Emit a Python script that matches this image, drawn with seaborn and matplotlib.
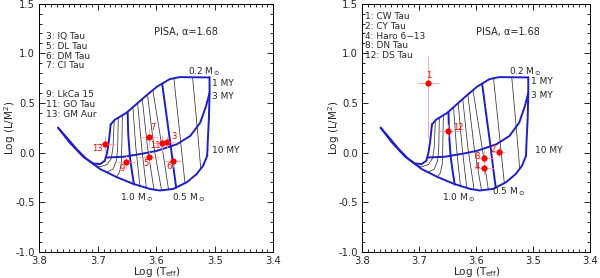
import numpy as np
import pandas as pd
import matplotlib
matplotlib.use("Agg")
import matplotlib.pyplot as plt
from matplotlib.ticker import MultipleLocator, FormatStrFormatter
import seaborn as sns

# --- PISA isochrones (log Teff, log L/M^2) ---
iso_1my_T = [3.678, 3.671, 3.651, 3.622, 3.599, 3.577, 3.560, 3.509]
iso_1my_L = [0.283, 0.330, 0.400, 0.550, 0.663, 0.740, 0.760, 0.757]
iso_3my_T = [3.685, 3.656, 3.622, 3.599, 3.565, 3.542, 3.525, 3.515, 3.509]
iso_3my_L = [-0.050, -0.043, -0.010, 0.017, 0.083, 0.167, 0.300, 0.467, 0.600]
iso_10my_T = [3.768, 3.753, 3.736, 3.719, 3.696, 3.667, 3.639, 3.611, 3.594,
              3.571, 3.548, 3.531, 3.520, 3.513]
iso_10my_L = [0.250, 0.150, 0.033, -0.067, -0.167, -0.250, -0.317, -0.367, -0.383,
              -0.367, -0.300, -0.217, -0.133, -0.033]

# --- labelled mass tracks (thick blue) ---
trk_100_T = [3.678, 3.681, 3.684, 3.688, 3.696, 3.708, 3.725, 3.748, 3.768]
trk_100_L = [0.283, 0.117, 0.000, -0.083, -0.117, -0.110, -0.043, 0.100, 0.250]
trk_080_T = [3.649, 3.648, 3.645, 3.641, 3.638]
trk_080_L = [0.410, 0.183, -0.050, -0.217, -0.323]
trk_050_T = [3.590, 3.582, 3.575, 3.570, 3.566]
trk_050_L = [0.694, 0.350, 0.050, -0.183, -0.355]
trk_020_T = [3.509, 3.509, 3.510, 3.512, 3.513]
trk_020_L = [0.757, 0.600, 0.350, 0.117, -0.033]

# --- intermediate mass tracks (thin black) ---
trk_095_T = [3.672, 3.674, 3.677, 3.684, 3.696, 3.708]
trk_095_L = [0.320, 0.050, -0.060, -0.120, -0.145, -0.120]
trk_090_T = [3.665, 3.666, 3.668, 3.674, 3.685]
trk_090_L = [0.351, 0.050, -0.083, -0.167, -0.200]
trk_085_T = [3.658, 3.659, 3.660, 3.663, 3.668]
trk_085_L = [0.375, 0.050, -0.117, -0.200, -0.247]
trk_075_T = [3.640, 3.635, 3.628]
trk_075_L = [0.457, 0.050, -0.337]
trk_070_T = [3.632, 3.625, 3.617]
trk_070_L = [0.498, 0.050, -0.356]
trk_065_T = [3.624, 3.615, 3.604]
trk_065_L = [0.540, 0.050, -0.374]
trk_060_T = [3.615, 3.604, 3.591]
trk_060_L = [0.584, 0.050, -0.381]
trk_055_T = [3.606, 3.590, 3.579]
trk_055_L = [0.629, 0.050, -0.376]
trk_040_T = [3.570, 3.560, 3.551]
trk_040_L = [0.748, 0.200, -0.309]
trk_030_T = [3.538, 3.530, 3.524]
trk_030_L = [0.758, 0.250, -0.163]

# --- stars, left panel ---
left_ids = ["3", "5", "6", "7", "9", "11", "13"]
left_T = [3.581, 3.612, 3.571, 3.612, 3.652, 3.591, 3.688]
left_L = [0.110, -0.043, -0.087, 0.160, -0.100, 0.100, 0.090]
left_Terr = [0.013, 0.017, 0.015, 0.015, 0.015, 0.013, 0.017]
left_Lerr_lo = [0.06, 0.06, 0.06, 0.08, 0.07, 0.08, 0.08]
left_Lerr_hi = [0.06, 0.06, 0.06, 0.08, 0.07, 0.08, 0.08]
left_names = ["3: IQ Tau", "5: DL Tau", "6: DM Tau", "7: CI Tau",
              "9: LkCa 15", "11: GO Tau", "13: GM Aur"]

# --- stars, right panel ---
right_ids = ["1", "2", "4", "8", "12"]
right_T = [3.685, 3.561, 3.587, 3.587, 3.649]
right_L = [0.700, 0.007, -0.157, -0.057, 0.217]
right_Terr = [0.019, 0.012, 0.017, 0.017, 0.020]
right_Lerr_lo = [0.55, 0.05, 0.07, 0.08, 0.07]
right_Lerr_hi = [0.27, 0.05, 0.07, 0.08, 0.07]
right_names = ["1: CW Tau", "2: CY Tau", "4: Haro 6\u221213", "8: DN Tau", "12: DS Tau"]

# label offsets in pixels (layout only)
left_lab_off = [(7, 5), (-3, -7), (-4, -5), (4, 9), (-4, -6), (-6, -3), (-7, -5)]
right_lab_off = [(1, 8), (-6, 2), (-7, 2), (-7, 2), (10, 3)]

BLUE = "#1f1fc4"
RED = "#ff0000"
ERR = "#ff9a9a"

thick_curves = {
    "1 MY": (iso_1my_T, iso_1my_L), "3 MY": (iso_3my_T, iso_3my_L),
    "10 MY": (iso_10my_T, iso_10my_L), "1.0": (trk_100_T, trk_100_L),
    "0.8": (trk_080_T, trk_080_L), "0.5": (trk_050_T, trk_050_L),
    "0.2": (trk_020_T, trk_020_L),
}
thin_curves = {
    "0.95": (trk_095_T, trk_095_L), "0.9": (trk_090_T, trk_090_L),
    "0.85": (trk_085_T, trk_085_L), "0.75": (trk_075_T, trk_075_L),
    "0.7": (trk_070_T, trk_070_L), "0.65": (trk_065_T, trk_065_L),
    "0.6": (trk_060_T, trk_060_L), "0.55": (trk_055_T, trk_055_L),
    "0.4": (trk_040_T, trk_040_L), "0.3": (trk_030_T, trk_030_L),
}


def to_long(curves):
    frames = []
    for name, (t, l) in curves.items():
        frames.append(pd.DataFrame({"curve": name, "logT": t, "logL": l}))
    return pd.concat(frames, ignore_index=True)


thick_df = to_long(thick_curves)
thin_df = to_long(thin_curves)

sns.set_theme(style="ticks")
plt.rcParams["font.family"] = ["DejaVu Sans"]
plt.rcParams["axes.unicode_minus"] = False

fig = plt.figure(figsize=(6.0, 2.78), dpi=100)
ax_l = fig.add_axes([0.0655, 0.0946, 0.390, 0.892])
ax_r = fig.add_axes([0.6040, 0.0946, 0.3800, 0.892])


def draw_panel(ax, ids, T, L, Terr, Lerr_lo, Lerr_hi, names, lab_off,
               names_pos, pisa_pos, curve_labels, ylab_x):
    sns.lineplot(data=thin_df, x="logT", y="logL", units="curve", estimator=None,
                 sort=False, color="#333333", lw=0.55, ax=ax, legend=False)
    sns.lineplot(data=thick_df, x="logT", y="logL", units="curve", estimator=None,
                 sort=False, color=BLUE, lw=1.4, ax=ax, legend=False)

    ax.errorbar(T, L, xerr=Terr, yerr=[Lerr_lo, Lerr_hi], fmt="none",
                ecolor=ERR, elinewidth=0.6, capsize=0, zorder=3)
    stars = pd.DataFrame({"logT": T, "logL": L})
    sns.scatterplot(data=stars, x="logT", y="logL", color=RED, s=20,
                    edgecolor=RED, linewidth=0, ax=ax, zorder=4)
    for sid, t, l, off in zip(ids, T, L, lab_off):
        ax.annotate(sid, (t, l), xytext=off, textcoords="offset pixels",
                    color=RED, fontsize=6, ha="center", va="center")

    x0, y0, dy = names_pos
    for i, nm in enumerate(names):
        ax.text(x0, y0 - i * dy, nm, fontsize=6.5, ha="left", va="center")

    ax.text(pisa_pos[0], pisa_pos[1], "PISA, \u03b1=1.68", fontsize=7,
            ha="left", va="center")
    for txt, x, y in curve_labels:
        ax.text(x, y, txt, fontsize=6.5, ha="left", va="center")

    ax.set_xlim(3.8, 3.4)
    ax.set_ylim(-1.0, 1.5)
    ax.xaxis.set_major_locator(MultipleLocator(0.1))
    ax.xaxis.set_minor_locator(MultipleLocator(0.01))
    ax.yaxis.set_major_locator(MultipleLocator(0.5))
    ax.yaxis.set_minor_locator(MultipleLocator(0.1))
    ax.xaxis.set_major_formatter(FormatStrFormatter("%.1f"))
    ax.yaxis.set_major_formatter(FormatStrFormatter("%.1f"))
    ax.tick_params(which="both", direction="in", top=True, right=True,
                   labelsize=7.2, color="black", width=0.6)
    ax.tick_params(which="major", length=4, pad=3)
    ax.tick_params(which="minor", length=2)
    for sp in ax.spines.values():
        sp.set_linewidth(0.7)
        sp.set_color("black")
    ax.set_xlabel(r"Log (T$_{\rm eff}$)", fontsize=7.5, va="center")
    ax.set_ylabel(r"Log (L/M$^2$)", fontsize=7.5, va="center")
    ax.xaxis.set_label_coords(0.5, -0.082)
    ax.yaxis.set_label_coords(ylab_x, 0.5)


# left panel: four names, gap, three names
draw_panel(ax_l, left_ids, left_T, left_L, left_Terr, left_Lerr_lo, left_Lerr_hi,
           left_names[:4], left_lab_off, (3.7885, 1.167, 0.0977), (3.604, 1.217),
           [(r"0.2 M$_\odot$", 3.545, 0.817), ("1 MY", 3.505, 0.70),
            ("3 MY", 3.505, 0.567), ("10 MY", 3.505, 0.023),
            (r"0.5 M$_\odot$", 3.574, -0.457), (r"1.0 M$_\odot$", 3.662, -0.457)],
           -0.125)
for i, nm in enumerate(left_names[4:]):
    ax_l.text(3.7885, 0.584 - i * 0.1, nm, fontsize=6.5, ha="left", va="center")

draw_panel(ax_r, right_ids, right_T, right_L, right_Terr, right_Lerr_lo, right_Lerr_hi,
           right_names, right_lab_off, (3.795, 1.367, 0.0975), (3.600, 1.217),
           [(r"0.2 M$_\odot$", 3.542, 0.817), ("1 MY", 3.504, 0.717),
            ("3 MY", 3.504, 0.573), ("10 MY", 3.498, 0.023),
            (r"0.5 M$_\odot$", 3.572, -0.40), (r"1.0 M$_\odot$", 3.660, -0.457)],
           -0.125)

fig.savefig("out.png", dpi=100)
